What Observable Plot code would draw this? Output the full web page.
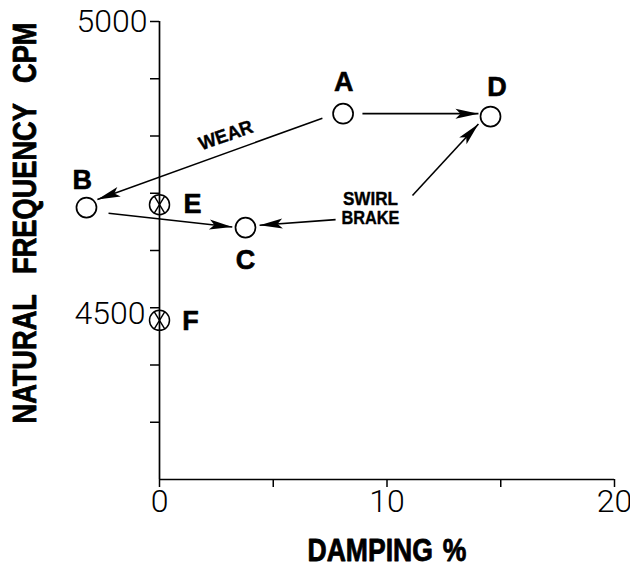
<!DOCTYPE html>
<html>
<head>
<meta charset="utf-8">
<script src="https://cdn.jsdelivr.net/npm/d3@7"></script>
<script src="https://cdn.jsdelivr.net/npm/@observablehq/plot@0.6"></script>
<style>
  html, body { margin: 0; padding: 0; background: #fff; }
  #chart svg { display: block; }
</style>
</head>
<body>
<div id="chart"></div>
<script>
// ---- data ----
const pointNames     = ["A", "B", "C", "D", "E", "F"];
const pointDamping   = [8.07, -3.21, 3.78, 14.55, 0.0, 0.0];
const pointFrequency = [4839, 4675, 4640, 4834, 4680, 4478];
const pointKind      = ["open", "open", "open", "open", "crossed", "crossed"];
const labelDamping   = [8.1, -3.4, 3.78, 14.84, 1.45, 1.36];
const labelFrequency = [4894, 4722, 4583, 4885, 4680, 4476];

const arrowFromDamping   = [8.92, 7.16, -2.24, 7.74, 11.12];
const arrowFromFrequency = [4839, 4831, 4665, 4654, 4696];
const arrowToDamping     = [14.02, -2.73, 3.20, 4.40, 14.02];
const arrowToFrequency   = [4839, 4689, 4641, 4644, 4821];

const notes         = ["WEAR", "SWIRL\nBRAKE"];
const noteDamping   = [2.92, 9.27];
const noteFrequency = [4801, 4673];

const xTicks      = [0, 5, 10, 15, 20];
const xTickLabels = ["0", "", "10", "", "20"];
const yTicks      = [4300, 4400, 4500, 4600, 4700, 4800, 4900, 5000];

const xTitle = "DAMPING %";
const yTitle = "NATURAL FREQUENCY CPM";

// ---- tables built from the arrays ----
const points = pointNames.map((name, i) => ({
  name, x: pointDamping[i], y: pointFrequency[i], kind: pointKind[i],
  lx: labelDamping[i], ly: labelFrequency[i]
}));
const arrows = arrowFromDamping.map((_, i) => ({
  x1: arrowFromDamping[i], y1: arrowFromFrequency[i],
  x2: arrowToDamping[i], y2: arrowToFrequency[i]
}));
const noteRows = notes.map((text, i) => ({text, x: noteDamping[i], y: noteFrequency[i]}));

const boldFont = "'Liberation Sans', Arial, 'DejaVu Sans', sans-serif";
const lightFont = "Roboto, 'Open Sans', Lato, 'Liberation Sans', sans-serif";

// filled arrow head marker
const arrowHead = (color) => {
  const m = d3.create("svg:marker")
    .attr("viewBox", "-24 -6 25 12")
    .attr("markerWidth", 25)
    .attr("markerHeight", 12)
    .attr("markerUnits", "userSpaceOnUse")
    .attr("refX", 0)
    .attr("refY", 0)
    .attr("orient", "auto");
  m.append("path")
    .attr("d", "M0,0L-23,-5L-18,0L-23,5Z")
    .attr("fill", color)
    .attr("stroke", "none");
  return m.node();
};

// hourglass-like cross inside a circle
const crossSymbol = {
  draw(ctx, size) {
    const r = Math.sqrt(size / Math.PI);
    const a = 0.52 * r, b = 0.85 * r;
    ctx.moveTo(-a, -b); ctx.lineTo(a, b);
    ctx.moveTo(a, -b); ctx.lineTo(-a, b);
  }
};

const heavy = (w) => ({fill: "black", stroke: "black", strokeWidth: w, fontWeight: "bold", fontFamily: boldFont});

const chart = Plot.plot({
  width: 630,
  height: 571,
  marginLeft: 159,
  marginRight: 16,
  marginTop: 21,
  marginBottom: 92,
  x: {domain: [0, 20]},
  y: {domain: [4200, 5000]},
  style: {background: "white", color: "black", overflow: "visible"},
  marks: [
    Plot.ruleX([0], {y1: 4200, y2: 5000, strokeWidth: 1.7}),
    Plot.ruleY([4200], {x1: 0, x2: 20, strokeWidth: 1.7}),
    Plot.axisX({
      ticks: xTicks,
      tickFormat: d => xTickLabels[xTicks.indexOf(d)],
      tickSize: 8, tickPadding: 2,
      fontSize: 32, fontFamily: lightFont, fontWeight: 300,
      strokeWidth: 1.5, label: null
    }),
    Plot.axisY({
      ticks: yTicks, tickFormat: () => "",
      tickSize: 9, strokeWidth: 1.5, label: null
    }),
    Plot.axisY({
      ticks: [5000], tickFormat: d => String(d), tickSize: 0, tickPadding: 12,
      fontSize: 32, fontFamily: lightFont, fontWeight: 300, label: null
    }),
    Plot.axisY({
      ticks: [4500], tickFormat: d => String(d), tickSize: 0, tickPadding: 14, dy: 6,
      fontSize: 32, fontFamily: lightFont, fontWeight: 300, label: null
    }),
    Plot.link(arrows, {
      x1: "x1", y1: "y1", x2: "x2", y2: "y2",
      stroke: "black", strokeWidth: 1.6, markerEnd: arrowHead
    }),
    Plot.dot(points.filter(d => d.kind === "open"), {
      x: "x", y: "y", r: 10, stroke: "black", fill: "white", strokeWidth: 1.7
    }),
    Plot.dot(points.filter(d => d.kind === "crossed"), {
      x: "x", y: "y", r: 10, stroke: "black", fill: "none", strokeWidth: 1.5
    }),
    Plot.dot(points.filter(d => d.kind === "crossed"), {
      x: "x", y: "y", r: 10, symbol: crossSymbol, stroke: "black", fill: "none", strokeWidth: 1.4
    }),
    Plot.text(points, {
      x: "lx", y: "ly", text: "name", fontSize: 27, ...heavy(0.6)
    }),
    Plot.text(noteRows.slice(0, 1), {
      x: "x", y: "y", text: "text", rotate: -19.5, fontSize: 19, ...heavy(0.4)
    }),
    Plot.text(noteRows.slice(1), {
      x: "x", y: "y", text: "text", lineHeight: 1.0, fontSize: 19, ...heavy(0.4)
    }),
    Plot.text([yTitle], {
      frameAnchor: "left", textAnchor: "middle", lineAnchor: "middle",
      rotate: -90, dx: -134, dy: -27.5, fontSize: 33, ...heavy(0.8)
    }),
    Plot.text([xTitle], {
      frameAnchor: "bottom", textAnchor: "middle", lineAnchor: "middle",
      dy: 72, fontSize: 31, ...heavy(0.8)
    })
  ]
});

document.getElementById("chart").appendChild(chart);

// condensed lettering, as in the original figure
const svgSel = d3.select(chart);
svgSel.selectAll("text")
  .filter(function () { return this.textContent === yTitle; })
  .style("word-spacing", "16px")
  .attr("textLength", 401)
  .attr("lengthAdjust", "spacingAndGlyphs");
svgSel.selectAll("text")
  .filter(function () { return this.textContent === xTitle; })
  .style("word-spacing", "3px")
  .attr("textLength", 159)
  .attr("lengthAdjust", "spacingAndGlyphs");
svgSel.selectAll("tspan")
  .filter(function () { return this.textContent === "SWIRL"; })
  .attr("textLength", 55)
  .attr("lengthAdjust", "spacingAndGlyphs");
svgSel.selectAll("tspan")
  .filter(function () { return this.textContent === "BRAKE"; })
  .attr("textLength", 58)
  .attr("lengthAdjust", "spacingAndGlyphs");
svgSel.selectAll("text")
  .filter(function () { return this.textContent === "WEAR"; })
  .attr("textLength", 56)
  .attr("lengthAdjust", "spacingAndGlyphs");
</script>
</body>
</html>
